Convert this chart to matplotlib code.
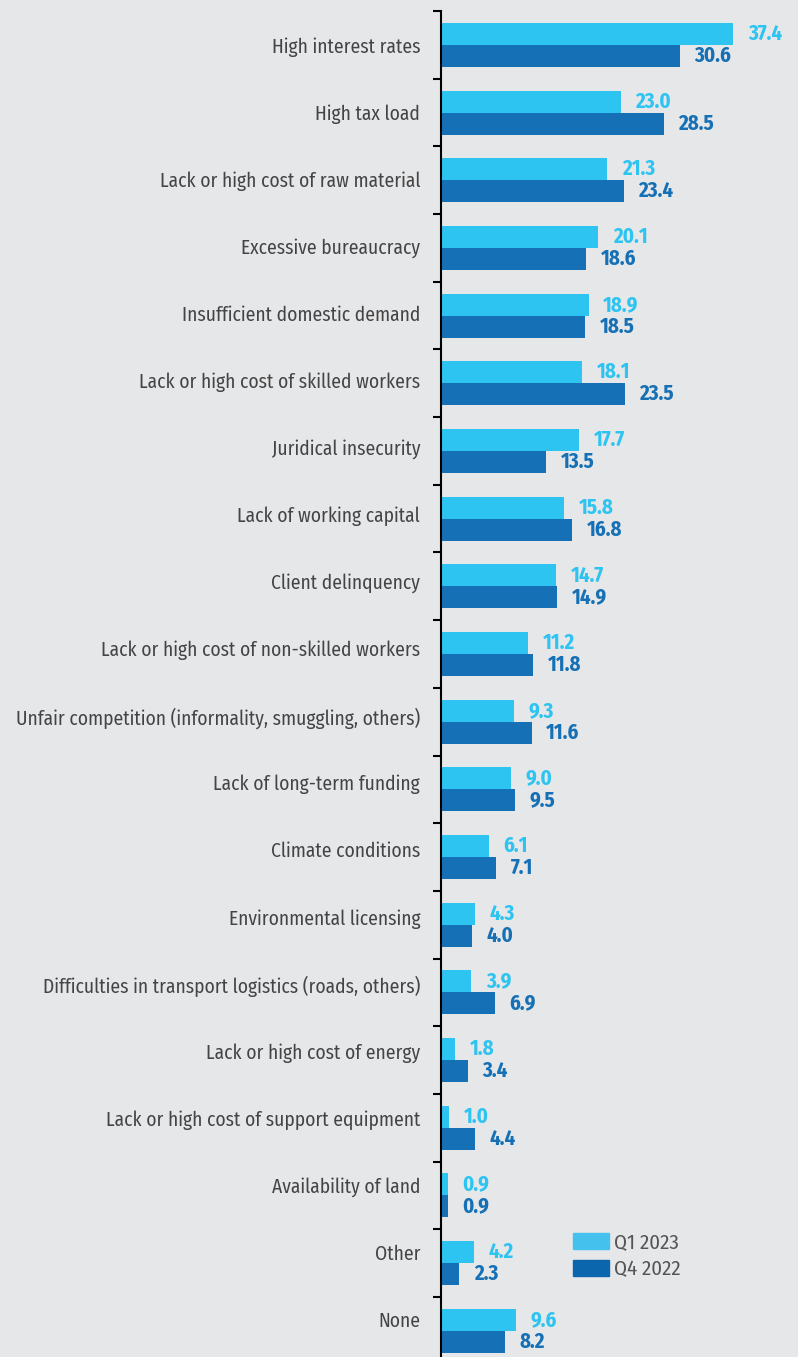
import matplotlib
matplotlib.use("Agg")
import matplotlib.pyplot as plt
from matplotlib import font_manager
from matplotlib.patches import Patch
import numpy as np

categories = [
    "High interest rates",
    "High tax load",
    "Lack or high cost of raw material",
    "Excessive bureaucracy",
    "Insufficient domestic demand",
    "Lack or high cost of skilled workers",
    "Juridical insecurity",
    "Lack of working capital",
    "Client delinquency",
    "Lack or high cost of non-skilled workers",
    "Unfair competition (informality, smuggling, others)",
    "Lack of long-term funding",
    "Climate conditions",
    "Environmental licensing",
    "Difficulties in transport logistics (roads, others)",
    "Lack or high cost of energy",
    "Lack or high cost of support equipment",
    "Availability of land",
    "Other",
    "None",
]
q1_2023 = [37.4, 23.0, 21.3, 20.1, 18.9, 18.1, 17.7, 15.8, 14.7, 11.2,
           9.3, 9.0, 6.1, 4.3, 3.9, 1.8, 1.0, 0.9, 4.2, 9.6]
q4_2022 = [30.6, 28.5, 23.4, 18.6, 18.5, 23.5, 13.5, 16.8, 14.9, 11.8,
           11.6, 9.5, 7.1, 4.0, 6.9, 3.4, 4.4, 0.9, 2.3, 8.2]

# pick a narrow font if one is around
names = {f.name for f in font_manager.fontManager.ttflist}
font = "DejaVu Sans"
for cand in ["Fira Sans Condensed", "Roboto Condensed", "Liberation Sans Narrow",
             "Open Sans Condensed", "Roboto", "Lato"]:
    if cand in names:
        font = cand
        break
plt.rcParams["font.family"] = [font, "DejaVu Sans"]

bg = "#e6e7e9"
light = "#2ec4f2"
dark = "#1570b5"

fig = plt.figure(figsize=(7.98, 13.57), dpi=100, facecolor=bg)
ax = fig.add_axes([441 / 798, -7.7 / 1357, 357 / 798, 1353.7 / 1357])
ax.set_facecolor(bg)

y = np.arange(len(categories))
h = 0.325
ax.barh(y - h / 2, q1_2023, height=h, color=light)
ax.barh(y + h / 2, q4_2022, height=h, color=dark)

for yi, a, b in zip(y, q1_2023, q4_2022):
    ax.annotate(f"{a:.1f}", (a, yi - h / 2), xytext=(10.5, 0), textcoords="offset points",
                ha="left", va="center", color=light, fontsize=15, fontweight="bold")
    ax.annotate(f"{b:.1f}", (b, yi + h / 2), xytext=(10.5, 0), textcoords="offset points",
                ha="left", va="center", color=dark, fontsize=15, fontweight="bold")

ax.set_xlim(0, 357 / 7.81)
ax.set_ylim(len(categories) - 0.5, -0.5)
# category labels in the original sit on a slightly tighter pitch than the bars
ax.set_yticks(y * 0.991)
ax.set_yticklabels(categories, fontsize=14, color="#444444")
ax.set_yticks(np.arange(len(categories)) - 0.5, minor=True)
ax.tick_params(axis="y", which="major", length=0, pad=15)
ax.tick_params(axis="y", which="minor", length=6, width=1.5, color="black")
ax.set_xticks([])
for s in ["top", "right", "bottom"]:
    ax.spines[s].set_visible(False)
ax.spines["left"].set_linewidth(1.5)

handles = [Patch(color="#45c1ee", label="Q1 2023"), Patch(color="#0b66ad", label="Q4 2022")]
fig.legend(handles=handles, loc="upper left", bbox_to_anchor=(573 / 798, 1 - 1233 / 1357),
           frameon=False, fontsize=15, labelcolor="#555555", handlelength=1.73,
           handleheight=0.77, handletextpad=0.25, labelspacing=0.35, borderaxespad=0,
           borderpad=0)

fig.savefig("out.png", dpi=100, facecolor=bg)
